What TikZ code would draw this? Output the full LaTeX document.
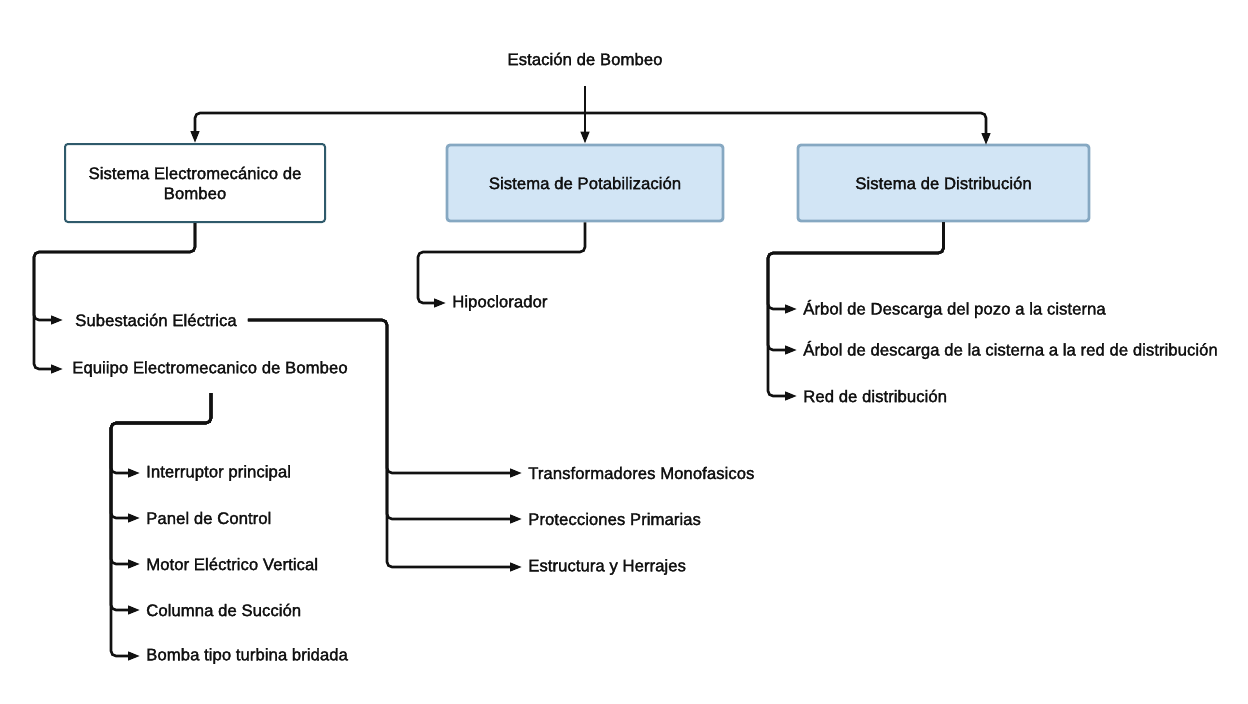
\documentclass[tikz,border=0pt]{standalone}
\usepackage{fontspec}
\newfontfamily\labelfont{Liberation Sans}[FakeBold=1.8]
\usetikzlibrary{arrows.meta}
\definecolor{boxedge}{HTML}{2F5A6B}
\definecolor{blueedge}{HTML}{86A8C2}
\definecolor{bluefill}{HTML}{D2E5F5}
\definecolor{ink}{HTML}{111111}
\begin{document}
\begin{tikzpicture}[x=1pt,y=-1pt,
  txt/.style={font=\labelfont\fontsize{16.8}{20}\selectfont, text=ink},
  conn/.style={draw=ink, line width=2.6pt, rounded corners=5pt,
    -{Triangle[length=12pt,width=8.5pt]}},
  lbl/.style={txt, anchor=west, inner xsep=6pt, inner ysep=2pt},
  whitebox/.style={txt, draw=boxedge, line width=2pt, fill=white,
    rounded corners=3pt, align=center, minimum height=78pt},
  bluebox/.style={txt, draw=blueedge, line width=2.8pt, fill=bluefill,
    rounded corners=3pt, align=center, minimum height=76pt}]
\useasboundingbox (0,0) rectangle (1248,704);
\fill[white] (0,0) rectangle (1248,704);

% root and first-level boxes
\node[txt] (root) at (585,59) {Estación de Bombeo};
\node[whitebox, minimum width=260pt] (sem) at (195,183)
  {Sistema Electromecánico de\\Bombeo};
\node[bluebox, minimum width=276pt] (pot) at (585,183)
  {Sistema de Potabilización};
\node[bluebox, minimum width=291pt] (dis) at (943.5,183)
  {Sistema de Distribución};

\coordinate (rj) at (585,113);
\coordinate (disin) at (986,145);
\draw[conn] ([yshift=-17pt]root.south) -- (pot.north);
\draw[conn] (rj) -| (sem.north);
\draw[conn] (rj) -| (disin);

% electromechanical branch
\node[lbl] (sub) at (69,320) {Subestación Eléctrica};
\node[lbl] (equ) at (66,369) {Equiipo Electromecanico de Bombeo};
\draw[conn] (sem.south) |- (34,252) |- ([xshift=-6pt]sub.west);
\draw[conn] (sem.south) |- (34,252) |- ([xshift=-3pt]equ.west);

% substation parts
\node[lbl] (tra) at (522,473) {Transformadores Monofasicos};
\node[lbl] (pro) at (522,519) {Protecciones Primarias};
\node[lbl] (est) at (522,567) {Estructura y Herrajes};
\draw[conn] ([xshift=5pt]sub.east) -| (387,473) -- (tra.west);
\draw[conn] ([xshift=5pt]sub.east) -| (387,519) -- (pro.west);
\draw[conn] ([xshift=5pt]sub.east) -| (387,567) -- (est.west);

% pumping equipment parts
\coordinate (eqo) at (211,393);
\node[lbl] (int) at (140,473) {Interruptor principal};
\node[lbl] (pan) at (140,518) {Panel de Control};
\node[lbl] (mot) at (140,564) {Motor Eléctrico Vertical};
\node[lbl] (col) at (140,610) {Columna de Succión};
\node[lbl] (bom) at (140,656) {Bomba tipo turbina bridada};
\foreach \n in {int,pan,mot,col,bom}
  \draw[conn] (eqo) |- (111,423) |- (\n.west);

% purification branch
\node[lbl] (hip) at (446,303) {Hipoclorador};
\draw[conn] (pot.south) |- (418,252) |- (hip.west);

% distribution branch
\node[lbl] (ar1) at (797,309) {Árbol de Descarga del pozo a la cisterna};
\node[lbl] (ar2) at (797,350) {Árbol de descarga de la cisterna a la red de distribución};
\node[lbl] (red) at (797,396) {Red de distribución};
\foreach \n in {ar1,ar2,red}
  \draw[conn] (dis.south) |- (768,253) |- (\n.west);
\end{tikzpicture}
\end{document}
